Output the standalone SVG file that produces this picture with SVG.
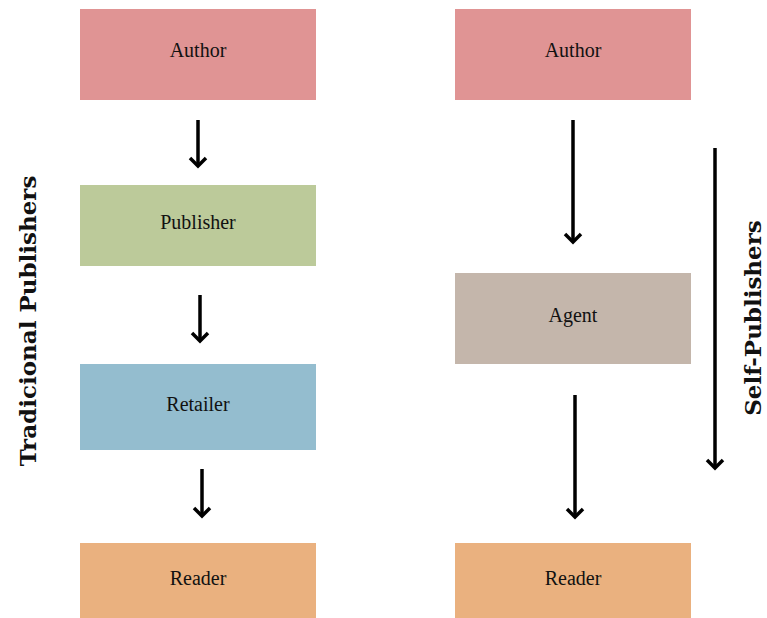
<svg xmlns="http://www.w3.org/2000/svg" width="767" height="618" viewBox="0 0 767 618">
<defs>
<style>
.box text{font-family:"Liberation Serif",serif;font-size:20px;fill:#111;text-anchor:middle;dominant-baseline:central}
.side{font-family:"DejaVu Serif","Liberation Serif",serif;font-size:23px;font-weight:bold;fill:#111;text-anchor:middle}
.conn line{stroke:#000;stroke-width:3.5}
.conn path{fill:none;stroke:#000;stroke-width:3.5}
</style>
</defs>
<rect width="767" height="618" fill="#fff"/>
<g id="author-left" class="box"><rect x="80" y="9" width="236" height="91" fill="#E09494"/><text x="198" y="50">Author</text></g>
<g id="publisher" class="box"><rect x="80" y="185" width="236" height="81" fill="#BCCA9A"/><text x="198" y="222">Publisher</text></g>
<g id="retailer" class="box"><rect x="80" y="364" width="236" height="86" fill="#94BDCF"/><text x="198" y="404">Retailer</text></g>
<g id="reader-left" class="box"><rect x="80" y="543" width="236" height="75" fill="#EAB17F"/><text x="198" y="578">Reader</text></g>
<g id="author-right" class="box"><rect x="455" y="9" width="236" height="91" fill="#E09494"/><text x="573" y="50">Author</text></g>
<g id="agent" class="box"><rect x="455" y="273" width="236" height="91" fill="#C4B6AB"/><text x="573" y="315">Agent</text></g>
<g id="reader-right" class="box"><rect x="455" y="543" width="236" height="75" fill="#EAB17F"/><text x="573" y="578">Reader</text></g>
<g id="label-traditional"><text class="side" transform="translate(36,321) rotate(-90)">Tradicional Publishers</text></g>
<g id="label-self"><text class="side" transform="translate(761,318) rotate(-90)">Self-Publishers</text></g>
<g id="connectors" class="conn">
<line x1="198" y1="120" x2="198" y2="166"/><path d="M190,158 L198,166 L206,158"/>
<line x1="200" y1="295" x2="200" y2="341"/><path d="M192,333 L200,341 L208,333"/>
<line x1="202" y1="469" x2="202" y2="516"/><path d="M194,508 L202,516 L210,508"/>
<line x1="573" y1="120" x2="573" y2="242"/><path d="M565,234 L573,242 L581,234"/>
<line x1="575" y1="395" x2="575" y2="517"/><path d="M567,509 L575,517 L583,509"/>
<line x1="715" y1="148" x2="715" y2="468"/><path d="M707,460 L715,468 L723,460"/>
</g>
</svg>
